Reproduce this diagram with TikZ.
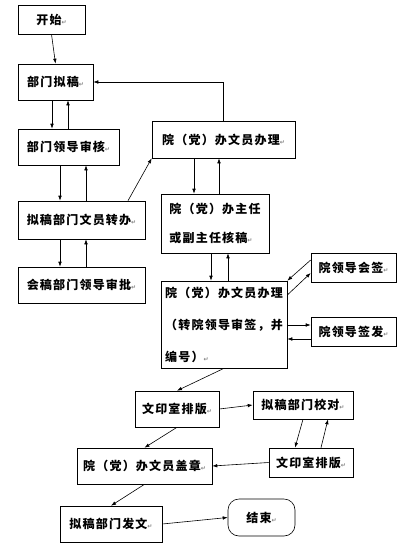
\documentclass[tikz,border=0pt]{standalone}
\usepackage{fontspec}
\setmainfont{Noto Sans CJK SC}[LetterSpace=10]
\newfontfamily\dejavu{DejaVu Sans}
\usetikzlibrary{arrows.meta}
\newcommand{\parmark}{{\dejavu\fontsize{6}{6}\selectfont\color{gray}↵}}

\begin{document}
\begin{tikzpicture}[x=1pt,y=-1pt,>={Latex[length=5pt,width=3.6pt]},
  box/.style={draw,line width=0.6pt,inner sep=0pt,font=\fontsize{12}{14}\selectfont\bfseries},
  tall/.style={box,align=left,font=\fontsize{12}{#1}\selectfont\bfseries},
  link/.style={->,line width=0.6pt}]
  \useasboundingbox (0,0) rectangle (412,546);
  \node[box,minimum width=67pt,minimum height=29pt] (kaishi) at (51.5,19.5) {开始\parmark};
  \node[box,minimum width=75pt,minimum height=36pt] (nigao) at (55.5,82) {部门拟稿\parmark};
  \node[box,minimum width=101pt,minimum height=36pt] (shenhe) at (68.5,147) {部门领导审核\parmark};
  \node[box,minimum width=127pt,minimum height=38pt] (zhuanban) at (81.5,220) {拟稿部门文员转办\parmark};
  \node[box,minimum width=127pt,minimum height=36pt] (huigao) at (81.5,285) {会稿部门领导审批\parmark};
  \node[box,minimum width=143pt,minimum height=37pt] (banli) at (223.5,139.5) {院（党）办文员办理\parmark};
  \node[tall=29,minimum width=108pt,minimum height=59pt] (hegao) at (215,223.5) {院（党）办主任\\或副主任核稿\parmark};
  \node[tall=32,minimum width=126pt,minimum height=87pt] (banlib) at (224,324.5) {院（党）办文员办理\\（转院领导审签，并\\编号）\parmark};
  \node[box,minimum width=85pt,minimum height=29pt] (huiqian) at (353.5,267.5) {院领导会签\parmark};
  \node[box,minimum width=85pt,minimum height=29pt] (qianfa) at (353.5,331.5) {院领导签发\parmark};
  \node[box,minimum width=84pt,minimum height=36pt] (paiban) at (177,409) {文印室排版\parmark};
  \node[box,minimum width=100pt,minimum height=28pt] (jiaodui) at (303,405) {拟稿部门校对\parmark};
  \node[box,minimum width=135pt,minimum height=36pt] (gaizhang) at (144.5,466) {院（党）办文员盖章\parmark};
  \node[box,minimum width=84pt,minimum height=29pt] (paibanb) at (311,462.5) {文印室排版\parmark};
  \node[box,minimum width=102pt,minimum height=36pt] (fawen) at (111,524) {拟稿部门发文\parmark};
  \node[box,rounded corners=11pt,minimum width=67pt,minimum height=37pt] (jieshu) at (261.5,517.5) {结束\parmark};

  \draw[link] (kaishi.south) -- (nigao.north);
  \draw[link] (nigao.south -| 52,0) -- (shenhe.north -| 52,0);
  \draw[link] (shenhe.north -| 68,0) -- (nigao.south -| 68,0);
  \draw[link] (shenhe.south -| 60,0) -- (zhuanban.north -| 60,0);
  \draw[link] (zhuanban.north -| 86,0) -- (shenhe.south -| 86,0);
  \draw[link] (zhuanban.south -| 60,0) -- (huigao.north -| 60,0);
  \draw[link] (huigao.north -| 86,0) -- (zhuanban.south -| 86,0);
  \draw[link] (zhuanban.north -| 128,0) -- (banli.south west);
  \draw[link] (banli.north) |- (nigao.east);
  \draw[link] (banli.south -| 194,0) -- (hegao.north -| 194,0);
  \draw[link] (hegao.north -| 219,0) -- (banli.south -| 219,0);
  \draw[link] (hegao.south -| 211,0) -- (banlib.north -| 211,0);
  \draw[link] (banlib.north -| 228,0) -- (hegao.south -| 228,0);
  \draw[link] (huiqian.west |- 0,260) -- (banlib.north east);
  \draw[link] (banlib.east |- 0,295) -- (huiqian.west |- 0,273);
  \draw[link] (banlib.east |- 0,325) -- (qianfa.west |- 0,325);
  \draw[link] (qianfa.west |- 0,339) -- (banlib.east |- 0,339);
  \draw[link] (banlib.south) -- (paiban.north);
  \draw[link] (paiban.east) -- (jiaodui.west);
  \draw[link] (jiaodui.south -| 303,0) -- (paibanb.north -| 295,0);
  \draw[link] (paibanb.north -| 321,0) -- (jiaodui.south -| 328,0);
  \draw[link] (paibanb.west) -- (gaizhang.east);
  \draw[link] (paiban.south) -- (gaizhang.north);
  \draw[link] (gaizhang.south) -- (fawen.north);
  \draw[link] (fawen.east) -- (jieshu.west);
\end{tikzpicture}
\end{document}
